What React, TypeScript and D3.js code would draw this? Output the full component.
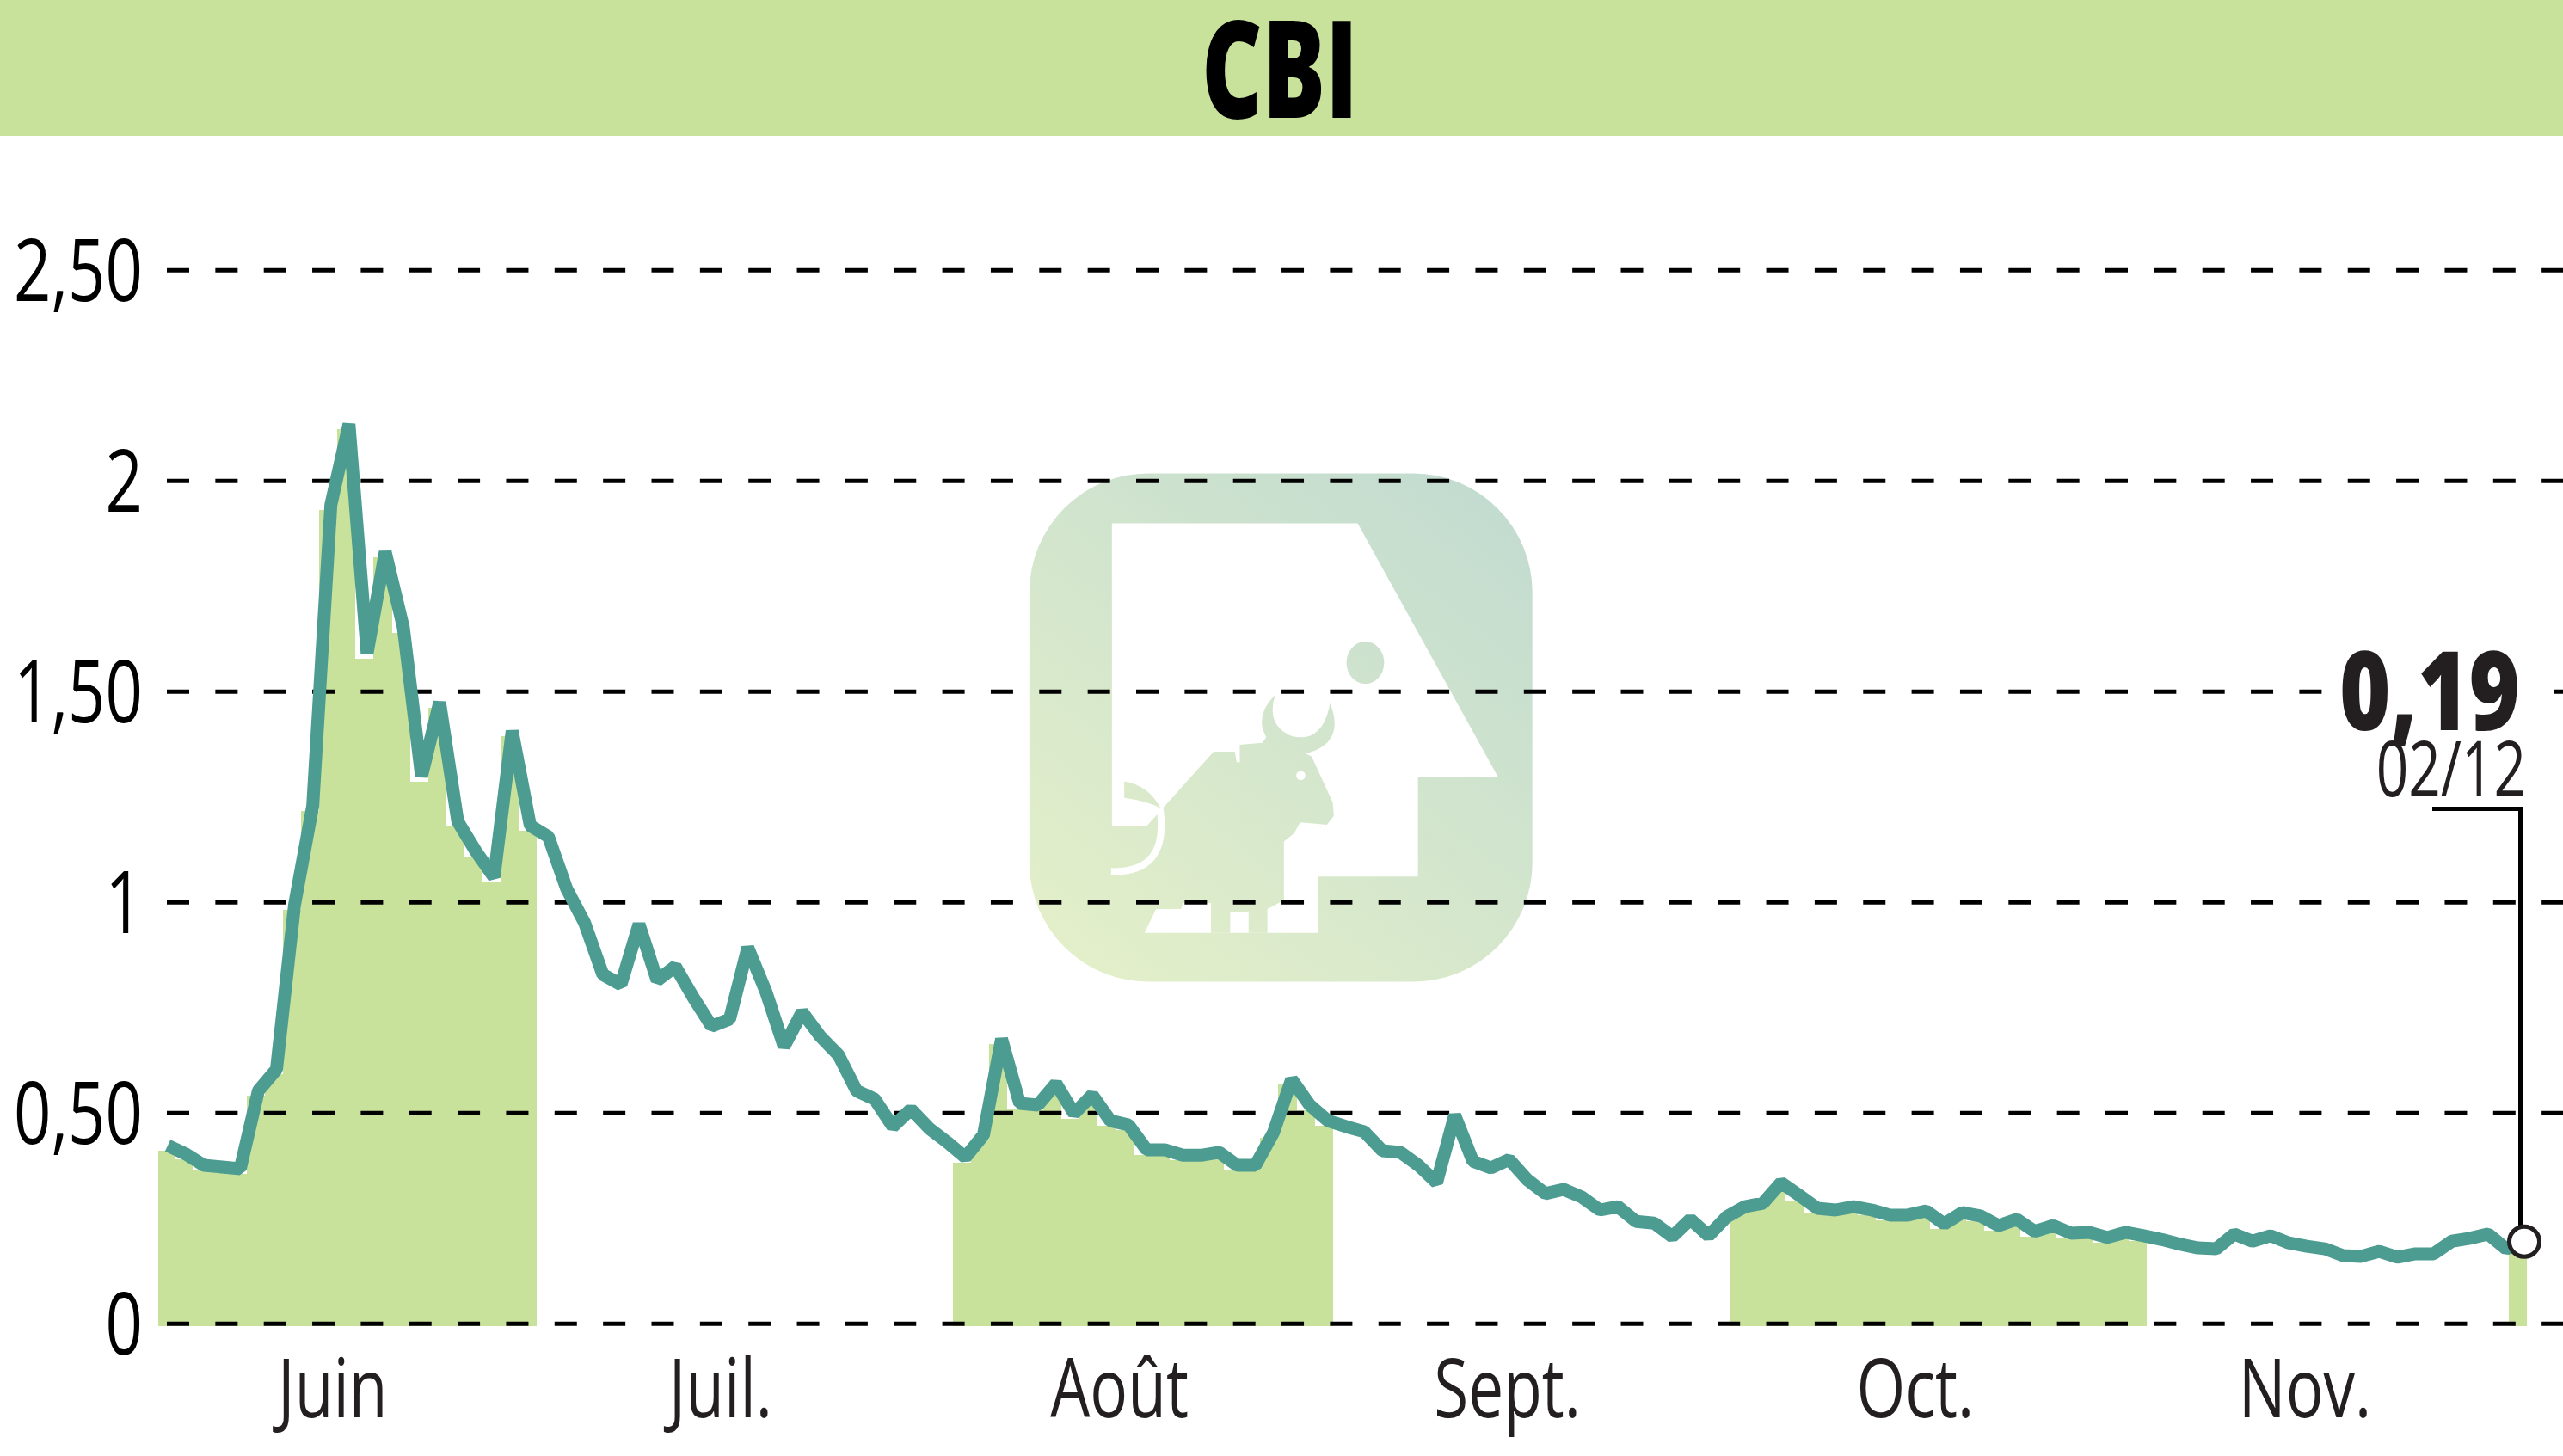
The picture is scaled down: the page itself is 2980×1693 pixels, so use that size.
import { useEffect, useRef } from 'react';
import * as d3 from 'd3';

const title = 'CBI';
const lastValueLabel = '0,19';
const lastDateLabel = '02/12';

// closing prices
const prices = [
  0.423, 0.403, 0.376, 0.372, 0.368, 0.553, 0.604, 0.995, 1.229, 1.943, 2.135,
  1.591, 1.832, 1.652, 1.299, 1.475, 1.192, 1.121, 1.06, 1.407, 1.182, 1.156,
  1.033, 0.951, 0.829, 0.805, 0.948, 0.815, 0.848, 0.774, 0.706, 0.723, 0.893,
  0.788, 0.658, 0.74, 0.682, 0.638, 0.553, 0.533, 0.468, 0.509, 0.464, 0.431,
  0.395, 0.448, 0.676, 0.523, 0.519, 0.57, 0.499, 0.543, 0.482, 0.472, 0.413,
  0.413, 0.4, 0.4, 0.407, 0.376, 0.376, 0.454, 0.58, 0.519, 0.482, 0.468,
  0.456, 0.411, 0.407, 0.376, 0.335, 0.495, 0.386, 0.37, 0.39, 0.342, 0.309,
  0.319, 0.301, 0.27, 0.278, 0.243, 0.239, 0.207, 0.248, 0.209, 0.254, 0.278,
  0.286, 0.335, 0.305, 0.274, 0.27, 0.278, 0.27, 0.258, 0.258, 0.268, 0.237,
  0.264, 0.256, 0.233, 0.248, 0.219, 0.233, 0.215, 0.217, 0.205, 0.217, 0.209,
  0.2, 0.189, 0.18, 0.178, 0.213, 0.196, 0.209, 0.192, 0.184, 0.178, 0.162,
  0.16, 0.172, 0.158, 0.166, 0.166, 0.196, 0.203, 0.213, 0.178, 0.195,
];

const yTicks = [0, 0.5, 1, 1.5, 2, 2.5];
const yTickLabels = ['0', '0,50', '1', '1,50', '2', '2,50'];

const months = ['Juin', 'Juil.', 'Août', 'Sept.', 'Oct.', 'Nov.'];
const monthCenters = [9.1, 30.5, 52.5, 73.9, 96.4, 117.9];

// every other month is shaded: first and last day index
const shadedFrom = [0, 44, 87, 130];
const shadedTo = [20, 64, 109, 130];

const WIDTH = 2980;
const HEIGHT = 1693;
const FONT = '"Open Sans", "Noto Sans", sans-serif';
const GREEN = '#c8e29b';
const TEAL = '#4c9c92';
const INK = '#231f20';

export default function App() {
  const svgRef = useRef<SVGSVGElement>(null);

  useEffect(() => {
    if (!svgRef.current) return;
    const svg = d3.select(svgRef.current);
    svg.selectAll('*').remove();

    const x = d3.scaleLinear().domain([0, prices.length - 1]).range([195, 2935]);
    const y = d3.scaleLinear().domain([0, 2.5]).range([1539.3, 314.3]);
    const band = d3
      .scaleBand<number>()
      .domain(d3.range(prices.length))
      .range([182, 2938.2]);

    svg.append('rect').attr('width', WIDTH).attr('height', HEIGHT).attr('fill', '#fff');

    // Header
    svg.append('rect').attr('width', WIDTH).attr('height', 158).attr('fill', GREEN);
    svg.append('text')
      .attr('transform', `translate(1488,137) scale(0.69,1)`)
      .attr('text-anchor', 'middle')
      .attr('font-family', FONT)
      .attr('font-weight', 800)
      .attr('font-size', 158)
      .attr('fill', '#000')
      .text(title);

    // Watermark, drawn in the coordinates of a 2.24x crop
    const defs = svg.append('defs');
    const grad = defs.append('linearGradient')
      .attr('id', 'wm')
      .attr('gradientUnits', 'userSpaceOnUse')
      .attr('x1', 300).attr('y1', 1437)
      .attr('x2', 1300).attr('y2', 180);
    grad.append('stop').attr('offset', 0).attr('stop-color', '#e3efc9');
    grad.append('stop').attr('offset', 1).attr('stop-color', '#c3dcd0');

    const wm = svg.append('g').attr('transform', 'translate(1150,500) scale(0.4464)');
    wm.append('rect')
      .attr('x', 105).attr('y', 113).attr('width', 1310).attr('height', 1324)
      .attr('rx', 310).attr('fill', 'url(#wm)');
    wm.append('path')
      .attr('fill', '#fff')
      .attr('d', 'M320,243L960,243L1325,903L1117,903L1117,1163L858,1163L858,1310L405,1310L320,1032Z');
    wm.append('path')
      .attr('fill', 'url(#wm)')
      .attr('d', 'M320,1032L410,1032L585,838L640,838L645,865L653,865L653,820L712,815L722,800Q690,745 745,690Q720,770 790,798Q870,815 888,712Q930,815 825,843L840,850L895,970L898,1005L880,1028L810,1022L795,1050L768,1072L768,1225L725,1248L725,1310L676,1310L676,1255L628,1255L628,1310L578,1310L578,1232L505,1232L500,1248L435,1248L405,1310L320,1310Z');
    wm.append('path')
      .attr('fill', 'url(#wm)')
      .attr('d', 'M352,915Q415,925 447,985Q410,965 352,958Z');
    wm.append('path')
      .attr('fill', 'none')
      .attr('stroke', '#fff')
      .attr('stroke-width', 18)
      .attr('d', 'M318,1150Q470,1155 445,985');
    wm.append('ellipse')
      .attr('cx', 980).attr('cy', 606).attr('rx', 49).attr('ry', 55)
      .attr('fill', 'url(#wm)');
    wm.append('circle').attr('cx', 812).attr('cy', 900).attr('r', 12).attr('fill', '#fff');

    // Shaded months, one bar per day under the line
    const shaded = prices
      .map((v, i) => ({ v, i }))
      .filter(d => shadedFrom.some((from, k) => d.i >= from && d.i <= shadedTo[k]));
    svg.append('g')
      .attr('shape-rendering', 'crispEdges')
      .selectAll('rect')
      .data(shaded)
      .enter()
      .append('rect')
      .attr('x', d => Math.max(184, band(d.i)!))
      .attr('width', d => band(d.i)! + band.bandwidth() - Math.max(184, band(d.i)!))
      .attr('y', d => y(d.v) + 6)
      .attr('height', d => y(0) + 3 - y(d.v) - 6)
      .attr('fill', GREEN);

    // Grid
    svg.append('g')
      .selectAll('line')
      .data(yTicks)
      .enter()
      .append('line')
      .attr('x1', 194)
      .attr('x2', WIDTH)
      .attr('y1', d => y(d))
      .attr('y2', d => y(d))
      .attr('stroke', '#000')
      .attr('stroke-width', 5)
      .attr('stroke-dasharray', '26 30.35');

    // Y labels
    svg.append('g')
      .selectAll('text')
      .data(yTicks)
      .enter()
      .append('text')
      .attr('transform', d => `translate(166,${y(d) + 36}) scale(0.76,1)`)
      .attr('text-anchor', 'end')
      .attr('font-family', FONT)
      .attr('font-size', 100)
      .attr('fill', '#000')
      .text((_, i) => yTickLabels[i]);

    // Month labels
    svg.append('g')
      .selectAll('text')
      .data(months)
      .enter()
      .append('text')
      .attr('transform', (_, i) => `translate(${x(monthCenters[i])},1648) scale(0.76,1)`)
      .attr('text-anchor', 'middle')
      .attr('font-family', FONT)
      .attr('font-size', 96)
      .attr('fill', INK)
      .text(d => d);

    // Price line
    const line = d3.line<number>()
      .x((_, i) => x(i))
      .y(d => y(d));
    svg.append('path')
      .attr('d', line(prices)!)
      .attr('fill', 'none')
      .attr('stroke', TEAL)
      .attr('stroke-width', 15)
      .attr('stroke-linejoin', 'bevel');

    // Last value callout, the grid stops behind the big number
    const lastX = x(prices.length - 1);
    const lastY = y(prices[prices.length - 1]);
    svg.append('rect')
      .attr('x', 2705).attr('y', 795).attr('width', 265).attr('height', 20)
      .attr('fill', '#fff');
    svg.append('path')
      .attr('d', `M2828,940.5H2930.5V${lastY}`)
      .attr('fill', 'none')
      .attr('stroke', '#000')
      .attr('stroke-width', 5);
    svg.append('circle')
      .attr('cx', lastX)
      .attr('cy', lastY)
      .attr('r', 17.5)
      .attr('fill', '#fff')
      .attr('stroke', INK)
      .attr('stroke-width', 5);
    svg.append('text')
      .attr('transform', 'translate(2930,849) scale(0.8,1)')
      .attr('text-anchor', 'end')
      .attr('font-family', FONT)
      .attr('font-weight', 800)
      .attr('font-size', 127)
      .attr('fill', INK)
      .text(lastValueLabel);
    svg.append('text')
      .attr('transform', 'translate(2937,926) scale(0.73,1)')
      .attr('text-anchor', 'end')
      .attr('font-family', FONT)
      .attr('font-size', 90)
      .attr('fill', INK)
      .text(lastDateLabel);
  }, []);

  return (
    <svg
      ref={svgRef}
      width={WIDTH}
      height={HEIGHT}
      style={{ position: 'absolute', top: 0, left: 0, display: 'block' }}
    />
  );
}
